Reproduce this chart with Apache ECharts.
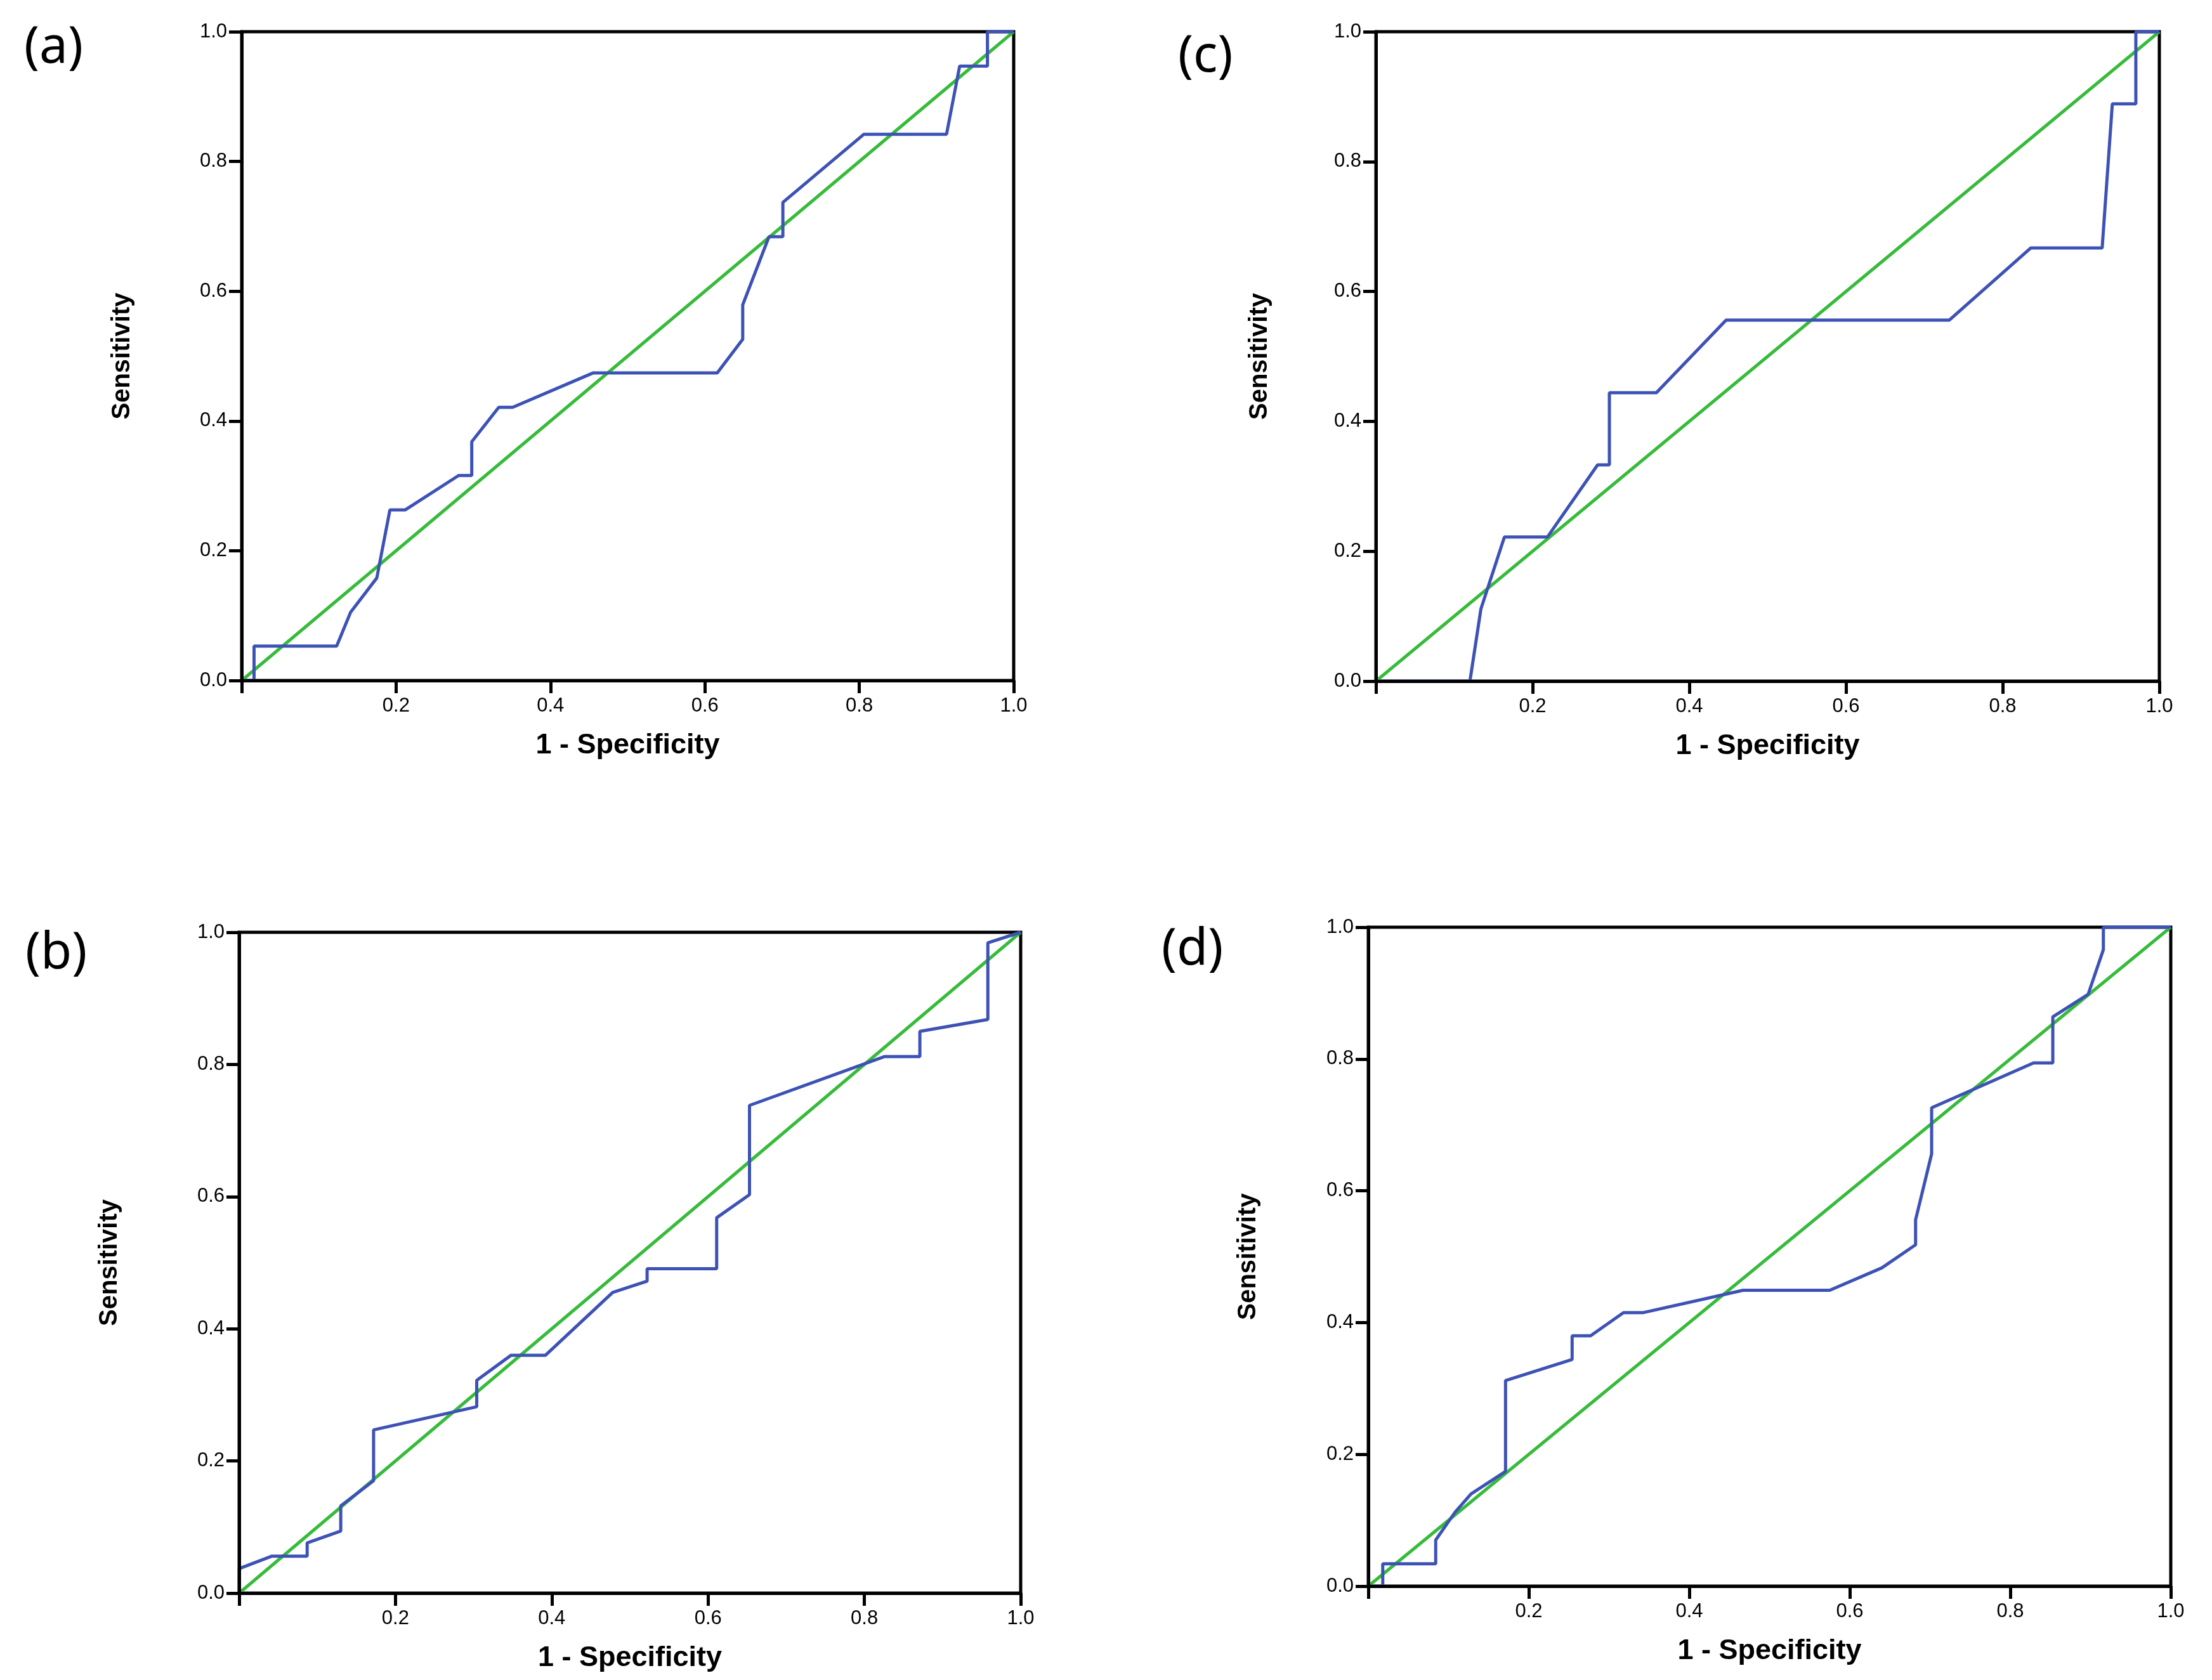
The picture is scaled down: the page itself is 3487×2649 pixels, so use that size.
<!DOCTYPE html>
<html>
<head>
<meta charset="utf-8">
<script src="https://cdn.jsdelivr.net/npm/echarts@6/dist/echarts.min.js"></script>
<style>
html,body{margin:0;padding:0;background:#fff;}
#chart{width:3487px;height:2649px;}
</style>
</head>
<body>
<div id="chart"></div>
<script>
// ---- data ----
const tickValues = [0, 0.2, 0.4, 0.6, 0.8, 1.0];
const xTickLabels = ['', '0.2', '0.4', '0.6', '0.8', '1.0'];
const yTickLabels = ['0.0', '0.2', '0.4', '0.6', '0.8', '1.0'];
const panelLabels = ['(a)', '(c)', '(b)', '(d)'];
const xTitle = '1 - Specificity';
const yTitle = 'Sensitivity';

const aFpr = [0, 0.016, 0.016, 0.123, 0.141, 0.175, 0.192, 0.212, 0.281, 0.298, 0.298, 0.333, 0.351, 0.455, 0.616, 0.649, 0.649, 0.683, 0.701, 0.701, 0.806, 0.913, 0.930, 0.966, 0.966, 1.0];
const aTpr = [0, 0, 0.053, 0.053, 0.105, 0.158, 0.263, 0.263, 0.316, 0.316, 0.368, 0.421, 0.421, 0.474, 0.474, 0.526, 0.579, 0.684, 0.684, 0.737, 0.842, 0.842, 0.947, 0.947, 1.0, 1.0];

const cFpr = [0, 0.120, 0.134, 0.164, 0.219, 0.283, 0.298, 0.298, 0.358, 0.447, 0.732, 0.836, 0.927, 0.940, 0.970, 0.970, 1.0];
const cTpr = [0, 0, 0.111, 0.222, 0.222, 0.333, 0.333, 0.444, 0.444, 0.556, 0.556, 0.667, 0.667, 0.889, 0.889, 1.0, 1.0];

const bFpr = [0, 0, 0.042, 0.087, 0.087, 0.130, 0.130, 0.172, 0.172, 0.304, 0.304, 0.348, 0.392, 0.478, 0.522, 0.522, 0.611, 0.611, 0.653, 0.653, 0.826, 0.871, 0.871, 0.958, 0.958, 1.0];
const bTpr = [0, 0.037, 0.056, 0.056, 0.076, 0.094, 0.132, 0.170, 0.247, 0.282, 0.322, 0.360, 0.360, 0.455, 0.472, 0.491, 0.491, 0.568, 0.603, 0.738, 0.812, 0.812, 0.850, 0.868, 0.984, 1.0];

const dFpr = [0, 0.018, 0.018, 0.084, 0.084, 0.108, 0.128, 0.171, 0.171, 0.254, 0.254, 0.277, 0.318, 0.342, 0.467, 0.575, 0.640, 0.682, 0.682, 0.702, 0.702, 0.829, 0.853, 0.853, 0.897, 0.916, 0.916, 1.0];
const dTpr = [0, 0, 0.034, 0.034, 0.070, 0.112, 0.140, 0.174, 0.312, 0.344, 0.380, 0.380, 0.415, 0.415, 0.449, 0.449, 0.483, 0.518, 0.556, 0.656, 0.726, 0.794, 0.794, 0.864, 0.898, 0.966, 1.0, 1.0];

const refX = [0, 1];
const refY = [0, 1];

// ---- layout ----
const grids = [
  {left: 381, top: 50, width: 1217, height: 1023},
  {left: 2169, top: 50, width: 1235, height: 1024},
  {left: 377, top: 1470, width: 1232, height: 1042},
  {left: 2157, top: 1462, width: 1265, height: 1039}
];
const yNameGaps = [168, 163, 184, 169];
const labelPos = [[38, 36], [1857, 50], [40, 1464], [1831, 1458]];
const curves = [[aFpr, aTpr], [cFpr, cTpr], [bFpr, bTpr], [dFpr, dTpr]];

const BLUE = '#3d52b5';
const GREEN = '#36bb3a';
const FONT = 'Liberation Sans';

function pairs(xs, ys) { return xs.map((x, i) => [x, ys[i]]); }
function labelFor(arr) {
  return function (v) {
    const i = tickValues.findIndex(t => Math.abs(t - v) < 1e-9);
    return i >= 0 ? arr[i] : '';
  };
}

const xAxes = [], yAxes = [], series = [], graphics = [];
grids.forEach((g, i) => {
  const common = {
    gridIndex: i, type: 'value', min: 0, max: 1, interval: 0.2, z: 10,
    splitLine: {show: false},
    axisLine: {show: true, onZero: false, lineStyle: {color: '#000', width: 5}},
    axisTick: {show: true, inside: false, length: 20, lineStyle: {color: '#000', width: 5}},
    nameLocation: 'middle',
    nameTextStyle: {fontFamily: FONT, fontWeight: 'bold', color: '#000'}
  };
  xAxes.push(Object.assign({}, common, {
    position: 'bottom',
    name: xTitle, nameGap: 80,
    nameTextStyle: Object.assign({}, common.nameTextStyle, {fontSize: 45}),
    axisLabel: {formatter: labelFor(xTickLabels), fontFamily: FONT, fontSize: 31, color: '#000', margin: 25, showMinLabel: true, showMaxLabel: true}
  }));
  yAxes.push(Object.assign({}, common, {
    position: 'left',
    name: yTitle, nameGap: yNameGaps[i], nameRotate: 90,
    nameTextStyle: Object.assign({}, common.nameTextStyle, {fontSize: 40}),
    axisLabel: {formatter: labelFor(yTickLabels), fontFamily: FONT, fontSize: 31, color: '#000', margin: 23, showMinLabel: true, showMaxLabel: true}
  }));
  series.push({
    type: 'line', xAxisIndex: i, yAxisIndex: i, data: pairs(refX, refY),
    showSymbol: false, clip: false, z: 2,
    lineStyle: {color: GREEN, width: 5}, itemStyle: {color: GREEN}
  });
  series.push({
    type: 'line', xAxisIndex: i, yAxisIndex: i, data: pairs(curves[i][0], curves[i][1]),
    showSymbol: false, clip: false, z: 3,
    lineStyle: {color: BLUE, width: 5}, itemStyle: {color: BLUE}
  });
  graphics.push({
    type: 'text', left: labelPos[i][0], top: labelPos[i][1],
    style: {text: panelLabels[i], font: '80px "Noto Sans"', fill: '#000'}
  });
});

const chart = echarts.init(document.getElementById('chart'), null, {renderer: 'canvas'});
chart.setOption({
  animation: false,
  backgroundColor: '#fff',
  grid: grids.map(g => Object.assign({}, g, {show: true, borderColor: '#000', borderWidth: 5, backgroundColor: 'transparent', containLabel: false})),
  xAxis: xAxes,
  yAxis: yAxes,
  series: series,
  graphic: graphics
});
</script>
</body>
</html>
